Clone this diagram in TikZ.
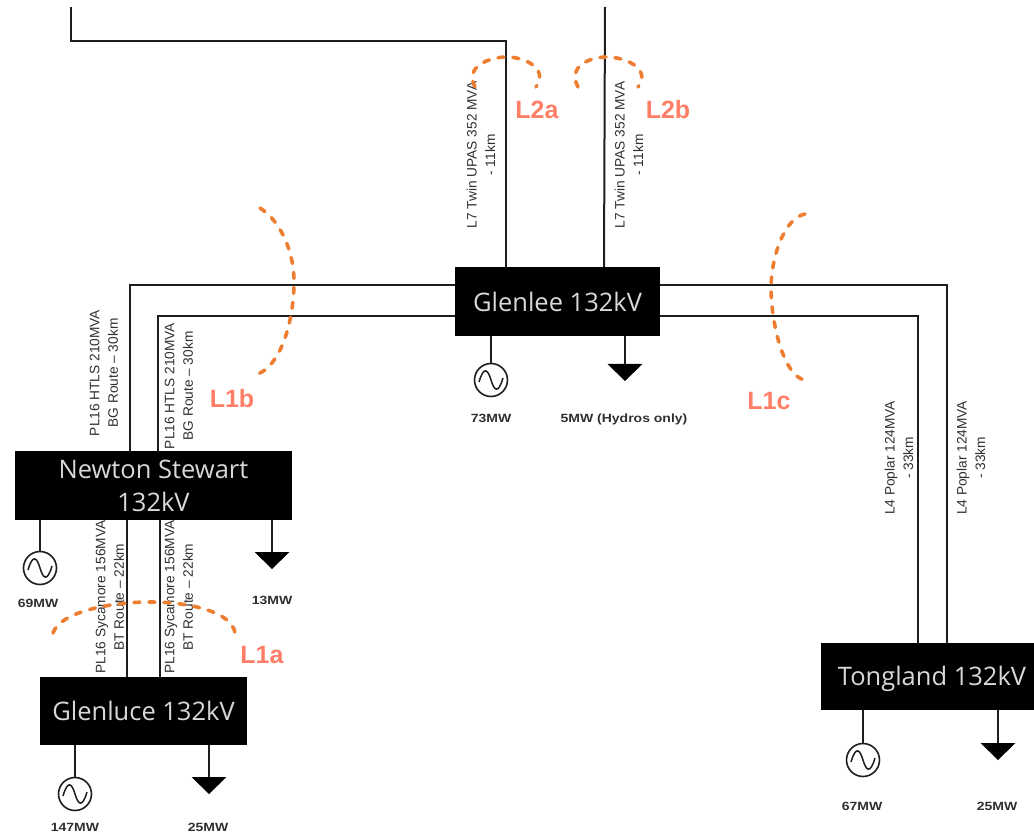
\documentclass[tikz,border=0pt]{standalone}
\usepackage{fontspec}
\setmainfont{Liberation Sans}
\newfontfamily\boxfont{Open Sans}
\definecolor{cutcol}{HTML}{ED7D31}
\definecolor{cutlabel}{HTML}{FF7F66}
\definecolor{wirecol}{HTML}{1E1E1E}
\definecolor{boxtext}{HTML}{D8D8D8}
\definecolor{linetext}{HTML}{303030}
\tikzset{
  bus/.style={fill=black,draw=none,inner sep=0pt,text=boxtext,align=center,font=\boxfont\fontsize{25.5}{33}\selectfont},
  wire/.style={draw=wirecol,line width=2pt},
  cut/.style={draw=cutcol,line width=3.6pt,line cap=round,dash pattern=on 6pt off 9pt},
  cutname/.style={text=cutlabel,inner sep=0pt,font=\bfseries\fontsize{25}{27}\selectfont},
  mwlabel/.style={text=linetext,inner sep=0pt,font=\bfseries\fontsize{14}{16}\selectfont,yscale=0.85},
  linelabel/.style={rotate=90,text=linetext,inner sep=0pt,align=center,font=\fontsize{13.7}{18.5}\selectfont},
  gen/.style={circle,draw=wirecol,line width=1.6pt,minimum size=33pt,inner sep=0pt,fill=white},
  loadtop/.style={fill=black,draw=none}
}
\newcommand{\sinewave}[1]{\draw[draw=wirecol,line width=1.5pt] ($(#1.center)+(-12,2)$) .. controls ($(#1.center)+(-7,-15)$) and ($(#1.center)+(-3,-10)$) .. (#1.center) .. controls ($(#1.center)+(3,10)$) and ($(#1.center)+(7,15)$) .. ($(#1.center)+(12,-2)$);}
\newcommand{\loadtri}[1]{\fill[loadtop] ($(#1)+(-17.5,0)$) -- ($(#1)+(17.5,0)$) -- ($(#1)+(0,17)$) -- cycle;}
\usetikzlibrary{calc}
\begin{document}
\begin{tikzpicture}[x=1pt,y=-1pt]
\useasboundingbox (0,0) rectangle (1034,834);
% substations
\node[bus,minimum width=205pt,minimum height=69pt] (glenlee) at (557.5,301.5) {Glenlee 132kV};
\node[bus,minimum width=277pt,minimum height=69pt] (newton) at (153.5,485.5) {Newton Stewart\\132kV};
\node[bus,minimum width=207pt,minimum height=68pt] (glenluce) at (143.5,711) {Glenluce 132kV};
\node[bus,minimum width=213pt,minimum height=67pt] (tongland) at (927.5,676.5) {\hspace*{9pt}\raisebox{-2pt}[\height][\depth]{Tongland 132kV}};
% free ends and routing points
\coordinate (topa) at (71,7);
\coordinate (topb) at (605,7);
\coordinate (c1) at (71,41);
\coordinate (c2) at (506,41);
\coordinate (w1) at (130,285);
\coordinate (w2) at (158,316);
\coordinate (e1) at (947,285);
\coordinate (e2) at (918,316);
% connectors
\draw[wire] (topa) -- (c1) -- (c2) -- (c2 |- glenlee.north);
\draw[wire] (topb) -- (604,267);
\draw[wire] (glenlee.west |- w1) -- (w1) -- (w1 |- newton.north);
\draw[wire] (glenlee.west |- w2) -- (w2) -- (w2 |- newton.north);
\draw[wire] (glenlee.east |- e1) -- (e1) -- (e1 |- tongland.north);
\draw[wire] (glenlee.east |- e2) -- (e2) -- (e2 |- tongland.north);
\coordinate (m1) at (127,600);
\coordinate (m2) at (160,600);
\draw[wire] (m1 |- newton.south) -- (m1 |- glenluce.north);
\draw[wire] (m2 |- newton.south) -- (m2 |- glenluce.north);
% generators
\node[gen] (g1) at (491,380) {};
\node[gen] (g2) at (40,568) {};
\node[gen] (g3) at (75,794) {};
\node[gen] (g4) at (863,760) {};
\draw[wire] (g1 |- glenlee.south) -- (g1.north);
\draw[wire] (g2 |- newton.south) -- (g2.north);
\draw[wire] (g3 |- glenluce.south) -- (g3.north);
\draw[wire] (g4 |- tongland.south) -- (g4.north);
\sinewave{g1}\sinewave{g2}\sinewave{g3}\sinewave{g4}
% loads
\coordinate (l1) at (625,364);
\coordinate (l2) at (272,552);
\coordinate (l3) at (209,777);
\coordinate (l4) at (998,743);
\draw[wire] (l1 |- glenlee.south) -- (l1);
\draw[wire] (l2 |- newton.south) -- (l2);
\draw[wire] (l3 |- glenluce.south) -- (l3);
\draw[wire] (l4 |- tongland.south) -- (l4);
\loadtri{l1}\loadtri{l2}\loadtri{l3}\loadtri{l4}
% MW labels
\node[mwlabel] (t1) at (491,418) {73MW};
\node[mwlabel] (t2) at (624,419) {5MW (Hydros only)};
\node[mwlabel] (t3) at (38,603) {69MW};
\node[mwlabel] (t4) at (272,600) {13MW};
\node[mwlabel] (t5) at (75,827) {147MW};
\node[mwlabel] (t6) at (208,827) {25MW};
\node[mwlabel] (t7) at (862,806) {67MW};
\node[mwlabel] (t8) at (997,806) {25MW};
% line labels
\node[linelabel] (a1) at (481,155) {L7 Twin UPAS 352 MVA\\- 11km};
\node[linelabel] (a2) at (629,155) {L7 Twin UPAS 352 MVA\\- 11km};
\node[linelabel] (b1) at (104,373) {PL16 HTLS 210MVA\\BG Route – 30km};
\node[linelabel] (b2) at (179,386) {PL16 HTLS 210MVA\\BG Route – 30km};
\node[linelabel] (c3) at (110,597) {PL16 Sycamore 156MVA\\BT Route – 22km};
\node[linelabel] (c4) at (179,597) {PL16 Sycamore 156MVA\\BT Route – 22km};
\node[linelabel] (d1) at (899,458) {L4 Poplar 124MVA\\- 33km};
\node[linelabel] (d2) at (971,458) {L4 Poplar 124MVA\\- 33km};
% cut arcs
\draw[cut] (475,87) .. controls (464,66) and (490,57) .. (507,57) .. controls (524,57) and (549,68) .. (536,87);
\draw[cut] (578,87) .. controls (567,66) and (590,57) .. (607,57) .. controls (624,57) and (652,68) .. (638,87);
\draw[cut] (260,208) .. controls (282,222) and (295,255) .. (294,285) .. controls (293,325) and (280,365) .. (258,374);
\draw[cut] (805,214) .. controls (785,218) and (771,255) .. (771,290) .. controls (772,330) and (785,375) .. (804,380);
\draw[cut] (53,633) .. controls (60,612) and (110,602) .. (150,602) .. controls (190,602) and (232,612) .. (235,633);
% cut names
\node[cutname] (n1) at (537,110) {L2a};
\node[cutname] (n2) at (668,110) {L2b};
\node[cutname] (n3) at (232,399) {L1b};
\node[cutname] (n4) at (769,401) {L1c};
\node[cutname] (n5) at (262,655) {L1a};
\end{tikzpicture}
\end{document}
